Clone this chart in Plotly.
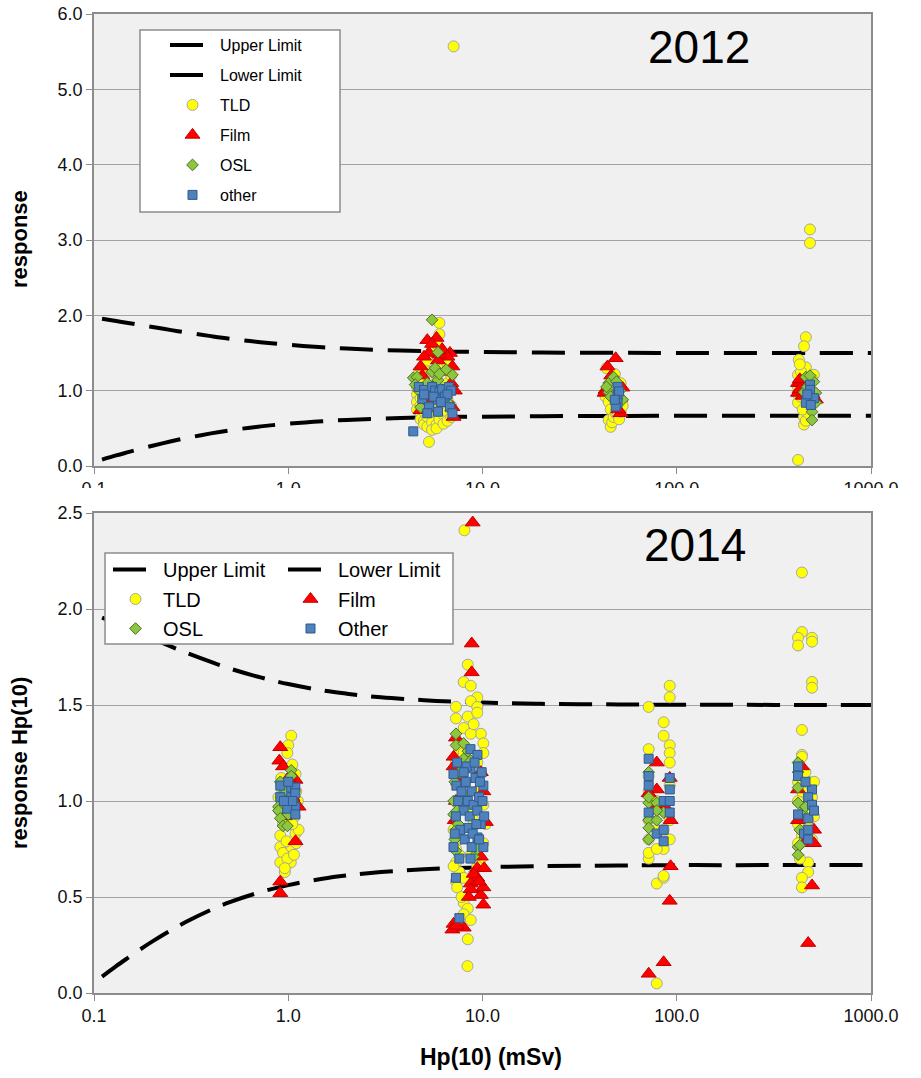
import plotly.graph_objects as go

W, H = 921, 1078

# ---------------- limit curves (trumpet curve) ----------------
lim_x = [0.11, 0.13, 0.15, 0.18, 0.2, 0.25, 0.3, 0.4, 0.5, 0.7, 1, 1.5, 2, 3, 5, 7,
         10, 20, 50, 100, 200, 500, 1000]
upper_y = [1.955, 1.925, 1.898, 1.864, 1.845, 1.804, 1.771, 1.724, 1.690, 1.647, 1.609,
           1.576, 1.559, 1.540, 1.525, 1.518, 1.513, 1.506, 1.503, 1.501, 1.501, 1.500, 1.500]
lower_y = [0.085, 0.140, 0.184, 0.239, 0.269, 0.328, 0.372, 0.433, 0.473, 0.522, 0.562,
           0.595, 0.612, 0.630, 0.644, 0.651, 0.655, 0.661, 0.664, 0.666, 0.666, 0.667, 0.667]

# ---------------- 2012 results: (Hp(10) in mSv, response) ----------------
tld_2012 = [
    (4.6, 1.20), (4.6, 1.05), (4.6, 0.95), (4.6, 0.85), (4.6, 0.75),
    (4.8, 1.10), (4.8, 0.90), (4.8, 0.80), (4.8, 0.70), (4.8, 0.62),
    (5.0, 1.30), (5.0, 1.00), (5.0, 0.72), (5.0, 0.60), (5.0, 0.55),
    (5.2, 1.40), (5.2, 0.88), (5.2, 0.65), (5.2, 0.52),
    (5.5, 1.55), (5.5, 1.25), (5.5, 0.78), (5.5, 0.58), (5.5, 0.48), (5.3, 0.32),
    (5.8, 1.62), (5.8, 1.12), (5.8, 0.70), (5.8, 0.55), (5.8, 0.50),
    (6.0, 1.90), (6.0, 1.75), (6.0, 1.45), (6.0, 0.82), (6.0, 0.62),
    (6.3, 1.50), (6.3, 1.30), (6.3, 0.95), (6.3, 0.68), (6.3, 0.56),
    (6.6, 1.35), (6.6, 1.10), (6.6, 0.88), (6.6, 0.72), (6.6, 0.60),
    (6.9, 1.20), (6.9, 1.00), (6.9, 0.80), (6.9, 0.65), (7.1, 5.57),
    (43.0, 0.92), (43.5, 1.30), (44.6, 0.61), (44.6, 0.85), (45.7, 0.52), (45.7, 0.75),
    (46.5, 0.58), (47.3, 0.65), (47.3, 1.05), (48.5, 0.70), (49.6, 0.68), (50.5, 0.62),
    (51.4, 0.72), (51.4, 1.10), (52.7, 0.80), (48.0, 1.22), (46.0, 0.98),
    (485, 3.14), (485, 2.96), (462, 1.71), (452, 1.59), (425, 1.41), (462, 1.31),
    (421, 1.21), (508, 1.21), (436, 1.25), (436, 1.13), (421, 1.05), (421, 0.95),
    (421, 0.84), (436, 0.92), (452, 0.65), (452, 0.55), (462, 0.60), (475, 0.70),
    (497, 1.15), (485, 0.80), (421, 0.08), (445, 0.75), (430, 1.35),
]
film_2012 = [
    (5.2, 1.67), (5.8, 1.70), (5.3, 1.50), (6.8, 1.50), (4.8, 1.32), (7.0, 1.32),
    (5.0, 1.45), (5.5, 1.62), (6.2, 1.55), (6.6, 1.45), (5.9, 1.40), (6.4, 1.25),
    (4.9, 1.20), (6.9, 1.10), (7.0, 0.78), (7.1, 0.65), (4.8, 0.74), (5.1, 0.90),
    (6.5, 0.85), (5.6, 1.05), (7.2, 1.00), (6.0, 1.48),
    (48.5, 1.43), (44.0, 1.32), (43.0, 1.01), (52.5, 1.04), (51.4, 0.70), (42.5, 0.97),
    (50.0, 0.75), (46.0, 1.20), (51.0, 0.90),
    (421, 1.10), (436, 1.10), (421, 0.97), (430, 1.02), (445, 0.93), (520, 0.88),
    (430, 1.15), (500, 0.95),
]
osl_2012 = [
    (5.5, 1.94), (5.9, 1.51), (4.4, 1.17), (4.6, 1.18), (4.5, 1.08), (5.5, 1.25),
    (5.9, 1.14), (7.0, 1.21), (4.8, 0.78), (6.2, 1.01), (5.2, 1.10), (6.5, 1.28),
    (5.0, 0.95), (6.6, 0.85), (5.7, 1.30), (6.0, 1.22), (4.7, 1.00),
    (44.6, 1.10), (47.3, 1.18), (44.6, 0.98), (52.7, 0.88), (45.7, 0.92), (49.0, 1.12),
    (51.0, 1.00), (43.5, 1.05),
    (462, 1.18), (508, 1.12), (452, 0.98), (520, 0.97), (497, 0.72), (497, 0.61),
    (520, 0.84), (470, 1.05), (485, 1.20),
]
other_2012 = [
    (4.7, 1.05), (5.0, 1.01), (5.5, 1.05), (5.7, 1.00), (6.0, 0.98), (6.2, 1.02),
    (6.7, 1.05), (6.9, 1.00), (4.9, 0.89), (5.3, 0.78), (5.9, 0.88), (6.4, 0.92),
    (6.8, 0.78), (5.2, 0.70), (5.9, 0.72), (6.6, 0.95), (4.4, 0.46), (5.6, 0.92),
    (6.1, 0.85), (5.0, 0.95), (7.0, 0.70),
    (49.6, 1.05), (49.6, 0.94), (49.6, 0.84), (48.5, 0.79), (50.5, 0.99), (48.0, 0.88),
    (485, 1.08), (485, 1.01), (508, 0.90), (462, 0.84), (490, 0.81), (470, 0.95),
]

# ---------------- 2014 results: (Hp(10) in mSv, response) ----------------
tld_2014 = [
    (1.036, 1.34), (1.00, 1.29), (1.05, 1.19), (1.09, 1.14), (0.99, 1.25),
    (0.91, 0.82), (0.91, 0.76), (0.94, 0.73), (0.91, 0.68), (0.96, 0.63), (1.03, 0.68),
    (1.04, 0.76), (1.09, 0.83), (1.10, 0.78), (0.94, 0.88), (1.13, 0.85), (0.99, 0.70),
    (0.93, 1.08), (0.90, 0.95), (1.08, 0.92), (1.12, 1.00), (0.89, 1.02), (1.05, 0.88),
    (0.98, 0.79), (1.07, 0.72), (0.92, 1.12), (1.10, 1.05), (0.96, 0.65),
    (8.07, 2.41), (8.4, 1.71), (8.0, 1.62), (8.7, 1.60), (9.4, 1.54), (8.7, 1.52),
    (7.3, 1.49), (9.4, 1.49), (7.3, 1.43), (8.4, 1.44), (9.4, 1.46), (8.0, 1.38),
    (9.8, 1.35), (8.7, 1.35), (10.1, 1.30), (10.1, 1.25), (7.6, 1.27), (9.0, 1.40),
    (7.3, 1.20), (7.6, 1.10), (8.0, 1.00), (8.4, 0.95), (9.0, 0.90), (9.4, 1.05),
    (9.8, 1.15), (10.1, 0.98), (7.1, 0.85), (7.3, 0.75), (7.6, 0.80), (10.4, 0.88),
    (10.1, 0.78), (8.7, 0.72), (9.8, 0.70), (8.0, 1.25), (9.4, 1.20),
    (7.3, 0.68), (7.6, 0.63), (7.3, 0.58), (7.1, 0.66), (7.4, 0.55), (8.0, 0.60),
    (8.0, 0.47), (8.4, 0.44), (8.0, 0.41), (8.4, 0.28), (8.37, 0.14), (8.7, 0.38),
    (7.8, 0.50), (9.0, 0.62), (8.7, 0.56), (7.6, 0.72), (9.4, 0.66),
    (71.7, 1.49), (92, 1.60), (92, 1.54), (85.6, 1.41), (85.6, 1.34), (92, 1.29),
    (92, 1.25), (92, 1.20), (71.7, 1.27), (71.7, 0.70), (71.7, 0.73), (78.9, 0.57),
    (85.6, 0.60), (78.9, 0.05), (85.6, 0.61), (71.7, 0.80), (71.7, 0.90),
    (78.9, 0.85), (85.6, 0.75), (92, 0.90), (92, 0.80), (78.9, 1.00), (85.6, 0.95),
    (92, 1.08), (71.7, 1.05), (78.9, 0.75), (85.6, 0.85), (71.7, 1.13),
    (441, 2.19), (441, 1.88), (421, 1.85), (421, 1.81), (497, 1.85), (497, 1.83),
    (497, 1.62), (497, 1.59), (441, 1.37), (441, 1.24), (441, 1.23), (475, 0.68),
    (475, 0.63), (441, 0.60), (441, 0.55), (421, 1.10), (421, 1.00), (421, 0.88),
    (441, 0.82), (460, 0.95), (475, 1.10), (497, 1.02), (509, 0.92), (497, 0.80),
    (421, 0.78), (460, 1.15), (441, 1.05), (509, 1.10), (475, 0.90), (430, 0.70),
]
film_2014 = [
    (1.02, 1.86), (0.91, 1.28), (0.90, 1.21), (0.94, 1.18), (1.09, 1.11), (1.13, 0.97),
    (1.09, 0.79), (0.91, 0.58), (0.91, 0.52), (1.00, 1.12), (1.05, 1.02), (0.96, 0.92),
    (8.9, 2.45), (8.8, 1.82), (8.8, 1.67), (7.3, 1.33), (7.1, 1.23), (7.1, 1.18),
    (10.4, 0.89), (9.8, 0.71), (7.1, 0.36), (7.0, 0.33), (8.0, 0.34), (10.1, 0.46),
    (9.8, 0.51), (10.1, 0.55), (9.4, 0.60), (9.4, 0.65), (8.7, 0.57), (8.7, 0.54),
    (10.1, 1.05), (7.3, 1.00), (9.0, 0.62), (9.6, 0.58), (10.2, 0.65), (7.5, 1.10),
    (9.8, 1.15), (8.5, 0.50), (7.2, 0.90), (7.4, 0.35),
    (78.9, 1.20), (78.9, 1.06), (93, 0.66), (92, 0.48), (85.6, 0.16), (71.7, 0.10),
    (93, 0.90), (71.7, 1.04), (92, 1.12), (85.6, 0.98), (75, 0.95),
    (441, 1.18), (497, 0.56), (475, 0.26), (452, 0.78), (509, 0.85), (421, 1.06),
    (421, 0.90), (509, 0.78), (480, 1.00),
]
osl_2014 = [
    (1.036, 1.16), (1.036, 1.13), (0.91, 1.10), (0.89, 0.97), (0.89, 0.95), (0.91, 0.91),
    (0.94, 0.87), (0.99, 0.87), (0.96, 1.05), (1.05, 1.00), (0.92, 1.02), (1.00, 0.93),
    (7.3, 1.35), (7.3, 1.29), (8.0, 1.30), (8.0, 1.22), (8.7, 1.21), (8.7, 1.18),
    (8.0, 1.04), (7.1, 1.00), (7.1, 0.93), (7.3, 0.85), (7.3, 0.74), (9.0, 0.71),
    (7.6, 1.15), (7.2, 1.10), (8.4, 1.26), (7.4, 0.95), (7.2, 0.80), (9.4, 0.75),
    (7.5, 0.88), (8.2, 1.10),
    (71.7, 1.15), (71.7, 0.99), (78.9, 0.99), (71.7, 0.90), (78.9, 0.90), (71.7, 0.86),
    (71.7, 0.80), (85.6, 0.94), (71.7, 1.02), (78.9, 0.95),
    (421, 1.07), (421, 0.99), (421, 0.76), (421, 0.72), (441, 0.94), (430, 0.77),
    (421, 1.15), (460, 0.97), (430, 0.85), (421, 1.20),
]
other_2014 = [
    (0.91, 1.08), (0.91, 1.02), (1.036, 1.07), (1.087, 1.07), (1.036, 1.02), (1.087, 0.97),
    (0.988, 0.96), (1.087, 0.93), (1.087, 1.04), (1.05, 1.00), (1.0, 1.10), (0.95, 1.00),
    (8.67, 1.27), (9.42, 1.24), (7.09, 1.14), (8.67, 1.17), (10.1, 1.08), (7.34, 1.08),
    (7.3, 0.60), (7.6, 0.39), (7.6, 0.70), (8.67, 0.70), (10.1, 0.76), (9.42, 0.81),
    (7.09, 0.76), (7.5, 1.00), (7.8, 1.05), (8.0, 0.95), (8.2, 1.10), (8.4, 1.00),
    (8.6, 0.92), (8.8, 1.05), (9.0, 0.98), (9.2, 1.12), (9.4, 0.95), (9.6, 1.02),
    (9.8, 0.88), (10.0, 1.00), (7.3, 0.92), (7.7, 0.85), (8.1, 0.80), (8.5, 0.86),
    (8.9, 0.83), (9.3, 0.88), (9.7, 1.10), (10.2, 0.92), (7.4, 1.20), (8.3, 1.18),
    (9.1, 1.20), (9.9, 1.15), (7.2, 0.83), (8.0, 1.15), (8.8, 0.76), (9.6, 0.80),
    (92, 1.12), (71.7, 1.13), (71.7, 1.08), (85.6, 1.00), (92, 1.00), (92, 0.94),
    (71.7, 0.94), (78.9, 0.83), (85.6, 0.85), (85.6, 0.79), (92, 1.06), (71.7, 1.22),
    (421, 1.18), (421, 1.13), (497, 1.06), (475, 1.02), (497, 0.98), (421, 0.93),
    (475, 0.91), (452, 0.83), (475, 0.80), (475, 0.85), (460, 1.10), (509, 0.95),
]

x_ticks = [0.1, 1, 10, 100, 1000]
x_tick_text = ["0.1", "1.0", "10.0", "100.0", "1000.0"]

FONT = "Liberation Sans, Arial, sans-serif"
GRID = "#A3A3A3"
AXIS = "#8C8C8C"


def px_x(p):
    return p / W


def px_y(p):
    return 1 - p / H


STYLES = {
    "TLD": dict(symbol="circle", size=11, color="#FFFF00", line=dict(color="#A6A6A6", width=1)),
    "Film": dict(symbol="triangle-up", size=13, color="#FF0000", line=dict(color="#C00000", width=1)),
    "OSL": dict(symbol="diamond", size=9, color="#8DC63F", line=dict(color="#4F6E24", width=1)),
    "Other": dict(symbol="square", size=9, color="#4F81BD", line=dict(color="#2F5B8C", width=1)),
}

fig = go.Figure()


def add_limits(xa, ya, legend_upper, legend_lower, dash, tag):
    fig.add_trace(go.Scatter(x=lim_x, y=upper_y, mode="lines", name="Upper Limit",
                             line=dict(color="black", width=4, dash=dash, shape="spline"),
                             xaxis=xa, yaxis=ya, legend=legend_upper,
                             legendgroup=tag + "up", hoverinfo="skip"))
    fig.add_trace(go.Scatter(x=lim_x, y=lower_y, mode="lines", name="Lower Limit",
                             line=dict(color="black", width=4, dash=dash, shape="spline"),
                             xaxis=xa, yaxis=ya, legend=legend_lower,
                             legendgroup=tag + "lo", hoverinfo="skip"))


def add_points(pts, name, style, xa, ya, legend, tag):
    fig.add_trace(go.Scatter(x=[p[0] for p in pts], y=[p[1] for p in pts], mode="markers",
                             name=name, marker=style, xaxis=xa, yaxis=ya,
                             legend=legend, legendgroup=tag + name))


# 2012 panel (top)
add_limits("x", "y", "legend", "legend", "33px,15px", "a")
add_points(tld_2012, "TLD", STYLES["TLD"], "x", "y", "legend", "a")
add_points(film_2012, "Film", STYLES["Film"], "x", "y", "legend", "a")
add_points(osl_2012, "OSL", STYLES["OSL"], "x", "y", "legend", "a")
add_points(other_2012, "other", STYLES["Other"], "x", "y", "legend", "a")

# 2014 panel (bottom), legend split into two columns
add_limits("x2", "y2", "legend2", "legend3", "33px,14px", "b")
add_points(tld_2014, "TLD", STYLES["TLD"], "x2", "y2", "legend2", "b")
add_points(film_2014, "Film", STYLES["Film"], "x2", "y2", "legend3", "b")
add_points(osl_2014, "OSL", STYLES["OSL"], "x2", "y2", "legend2", "b")
add_points(other_2014, "Other", STYLES["Other"], "x2", "y2", "legend3", "b")

tick_font = dict(family=FONT, size=18, color="#111111")
xcommon = dict(type="log", range=[-1, 3], tickvals=x_ticks, ticktext=x_tick_text,
               showgrid=False, showline=True, linecolor=AXIS, linewidth=1.5, mirror=True,
               ticks="outside", ticklen=6, tickcolor=AXIS, tickfont=tick_font,
               zeroline=False, automargin=False, domain=[px_x(94), px_x(871)])
ycommon = dict(showgrid=True, gridcolor=GRID, gridwidth=1, showline=True, linecolor=AXIS,
               linewidth=1.5, mirror=True, ticks="outside", ticklen=6, tickcolor=AXIS,
               tickfont=tick_font, zeroline=False, automargin=False, tickformat=".1f")

legend_common = dict(bgcolor="rgba(0,0,0,0)", borderwidth=0, xanchor="left", yanchor="top",
                     orientation="v", itemwidth=45, itemclick=False, itemdoubleclick=False)


def label(text, x, y, size, angle=0):
    return dict(text=text, x=px_x(x), y=px_y(y), xref="paper", yref="paper",
                xanchor="center", yanchor="middle", textangle=angle, showarrow=False,
                font=dict(family=FONT, size=size, color="black"))


box_line = dict(color="#8C8C8C", width=1.5)
fig.update_layout(
    width=W, height=H,
    margin=dict(l=0, r=0, t=0, b=0),
    paper_bgcolor="white", plot_bgcolor="#F0F0F0",
    font=dict(family=FONT, color="black"),
    xaxis=dict(anchor="y", **xcommon),
    yaxis=dict(anchor="x", range=[0, 6], dtick=1, domain=[px_y(466), px_y(14)], **ycommon),
    xaxis2=dict(anchor="y2", **xcommon),
    yaxis2=dict(anchor="x2", range=[0, 2.5], dtick=0.5, domain=[px_y(993), px_y(513)], **ycommon),
    legend=dict(x=px_x(165), y=px_y(28), font=dict(family=FONT, size=16), tracegroupgap=6.2,
                **legend_common),
    legend2=dict(x=px_x(108), y=px_y(550), font=dict(family=FONT, size=20), tracegroupgap=0.5,
                 **legend_common),
    legend3=dict(x=px_x(283), y=px_y(550), font=dict(family=FONT, size=20), tracegroupgap=0.5,
                 **legend_common),
    shapes=[
        dict(type="rect", xref="paper", yref="paper", x0=px_x(140), x1=px_x(340),
             y0=px_y(212), y1=px_y(30), fillcolor="white", line=box_line, layer="above"),
        dict(type="rect", xref="paper", yref="paper", x0=px_x(105), x1=px_x(453),
             y0=px_y(644), y1=px_y(553), fillcolor="white", line=box_line, layer="above"),
        # the 2014 panel sits over the lower edge of the 2012 tick labels
        dict(type="rect", xref="paper", yref="paper", x0=0, x1=1,
             y0=px_y(504), y1=px_y(488), fillcolor="white", line=dict(width=0), layer="above"),
    ],
    annotations=[
        label("2012", 699, 47, 46),
        label("2014", 695, 545, 46),
        label("<b>response</b>", 19, 239, 22, -90),
        label("<b>response Hp(10)</b>", 19, 763, 22, -90),
        label("<b>Hp(10) (mSv)</b>", 491, 1057, 23),
    ],
)

fig.write_html("out.html")
